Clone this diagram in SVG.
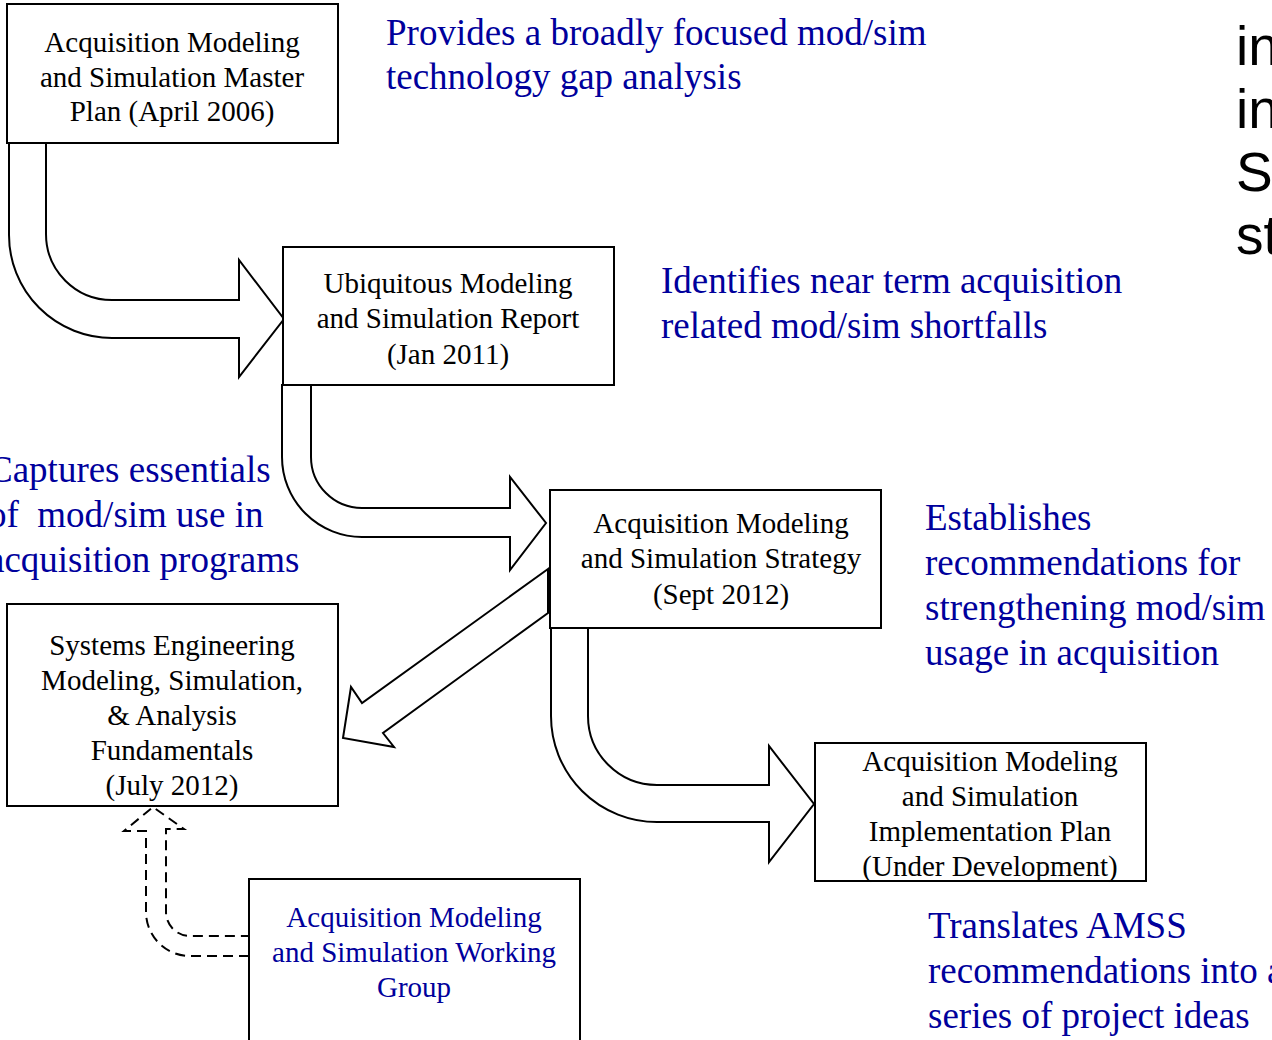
<svg xmlns="http://www.w3.org/2000/svg" width="1272" height="1040" viewBox="0 0 1272 1040">
<style>
.box{fill:#fff;stroke:#000;stroke-width:2}
.arr{fill:#fff;stroke:#000;stroke-width:2;stroke-linejoin:miter}
.dash{fill:none;stroke:#000;stroke-width:2;stroke-dasharray:10 6}
.bt{font-family:"Liberation Serif","Times New Roman",serif;font-size:29px;fill:#000;text-anchor:middle}
.bb{font-family:"Liberation Serif","Times New Roman",serif;font-size:29px;fill:#00009c;text-anchor:middle}
.note{font-family:"Liberation Serif","Times New Roman",serif;font-size:37px;fill:#00009c}
.side{font-family:"Liberation Sans",Arial,sans-serif;font-size:55px;fill:#000}
</style>
<rect width="1272" height="1040" fill="#fff"/>
<g id="connectors">
<path class="arr" d="M9,143 L9,235 A103,103 0 0 0 112,338 L239,338 L239,377 L284,319 L239,260 L239,300 L112,300 A66,66 0 0 1 46,234 L46,143 Z"/>
<path class="arr" d="M282,385 L282,457 A80,80 0 0 0 362,537 L510,537 L510,570 L546,523 L510,477 L510,508 L362,508 A51,51 0 0 1 311,457 L311,385 Z"/>
<path class="arr" d="M548,569 L362,703 L351,687 L343,738 L394,747 L383,733 L548,613 Z"/>
<path class="arr" d="M551,628 L551,716 A106,106 0 0 0 657,822 L769,822 L769,862 L814,804 L769,746 L769,785 L657,785 A69,69 0 0 1 588,716 L588,628 Z"/>
<path class="dash" d="M249,956 L190,956 A44,44 0 0 1 146,912 L146,831 L124,831 L153,807 L184,829 L166,829 L166,912 A24,24 0 0 0 190,936 L249,936"/>
</g>
<g id="node-master-plan">
<rect class="box" x="7" y="4" width="331" height="139"/>
<text class="bt" x="172" y="52">Acquisition Modeling</text>
<text class="bt" x="172" y="87">and Simulation Master</text>
<text class="bt" x="172" y="121">Plan (April 2006)</text>
</g>
<g id="node-ubiquitous">
<rect class="box" x="283" y="247" width="331" height="138"/>
<text class="bt" x="448" y="293">Ubiquitous Modeling</text>
<text class="bt" x="448" y="328">and Simulation Report</text>
<text class="bt" x="448" y="364">(Jan 2011)</text>
</g>
<g id="node-strategy">
<rect class="box" x="550" y="490" width="331" height="138"/>
<text class="bt" x="721" y="533">Acquisition Modeling</text>
<text class="bt" x="721" y="568">and Simulation Strategy</text>
<text class="bt" x="721" y="604">(Sept 2012)</text>
</g>
<g id="node-se-fundamentals">
<rect class="box" x="7" y="604" width="331" height="202"/>
<text class="bt" x="172" y="655">Systems Engineering</text>
<text class="bt" x="172" y="690">Modeling, Simulation,</text>
<text class="bt" x="172" y="725">&amp; Analysis</text>
<text class="bt" x="172" y="760">Fundamentals</text>
<text class="bt" x="172" y="795">(July 2012)</text>
</g>
<g id="node-implementation">
<rect class="box" x="815" y="743" width="331" height="138"/>
<text class="bt" x="990" y="771">Acquisition Modeling</text>
<text class="bt" x="990" y="806">and Simulation</text>
<text class="bt" x="990" y="841">Implementation Plan</text>
<text class="bt" x="990" y="876">(Under Development)</text>
</g>
<g id="node-working-group">
<rect class="box" x="249" y="879" width="331" height="180"/>
<text class="bb" x="414" y="927">Acquisition Modeling</text>
<text class="bb" x="414" y="962">and Simulation Working</text>
<text class="bb" x="414" y="997">Group</text>
</g>
<g id="notes">
<text class="note" x="386" y="45">Provides a broadly focused mod/sim</text>
<text class="note" x="386" y="89">technology gap analysis</text>
<text class="note" x="661" y="293">Identifies near term acquisition</text>
<text class="note" x="661" y="338">related mod/sim shortfalls</text>
<text class="note" x="-12" y="482">Captures essentials</text>
<text class="note" x="-12" y="527" xml:space="preserve">of  mod/sim use in</text>
<text class="note" x="-12" y="572">acquisition programs</text>
<text class="note" x="925" y="530">Establishes</text>
<text class="note" x="925" y="575">recommendations for</text>
<text class="note" x="925" y="620">strengthening mod/sim</text>
<text class="note" x="925" y="665">usage in acquisition</text>
<text class="note" x="928" y="938">Translates AMSS</text>
<text class="note" x="928" y="983">recommendations into a</text>
<text class="note" x="928" y="1028">series of project ideas</text>
</g>
<g id="side-text">
<text class="side" x="1236" y="65">in</text>
<text class="side" x="1236" y="128">in</text>
<text class="side" x="1236" y="191">St</text>
<text class="side" x="1236" y="254">st</text>
</g>
</svg>
